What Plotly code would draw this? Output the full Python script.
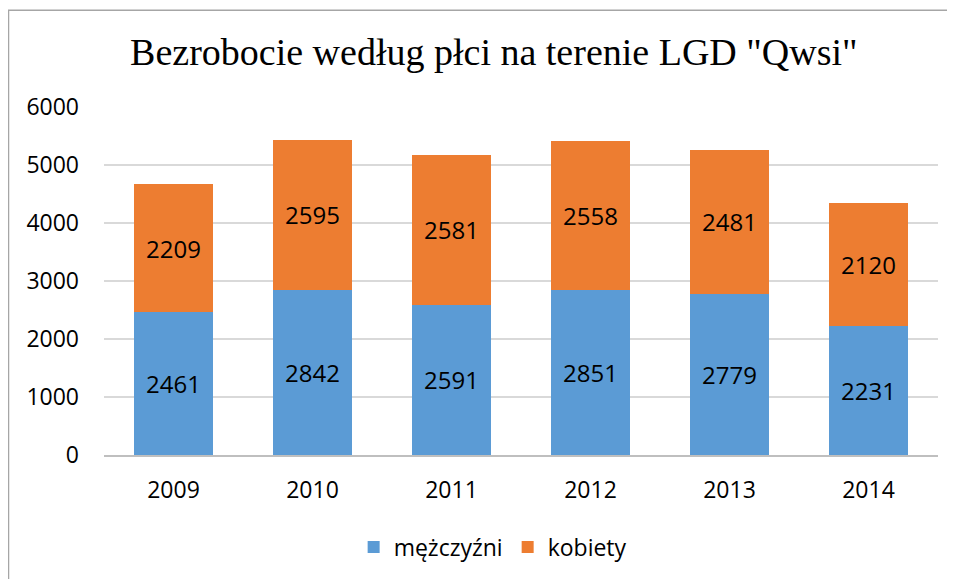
import plotly.graph_objects as go

# dane
lata = ['2009', '2010', '2011', '2012', '2013', '2014']
mezczyzni = [2461, 2842, 2591, 2851, 2779, 2231]
kobiety = [2209, 2595, 2581, 2558, 2481, 2120]

kolor_m = '#5B9BD5'
kolor_k = '#ED7D31'
czcionka = 'Open Sans'

fig = go.Figure()

fig.add_trace(go.Bar(
    x=lata, y=mezczyzni, name='mężczyźni',
    marker=dict(color=kolor_m, line=dict(width=0)),
    texttemplate='%{y}', textposition='inside', insidetextanchor='middle',
    textangle=0, textfont=dict(family=czcionka, size=24, color='black'),
))
fig.add_trace(go.Bar(
    x=lata, y=kobiety, name='kobiety',
    marker=dict(color=kolor_k, line=dict(width=0)),
    texttemplate='%{y}', textposition='inside', insidetextanchor='middle',
    textangle=0, textfont=dict(family=czcionka, size=24, color='black'),
))

# ramka wykresu
fig.add_shape(type='rect', xref='paper', yref='paper',
              x0=-0.1145, x1=1.2, y0=-0.5, y1=1.278,
              line=dict(color='#a6a6a6', width=1.5), layer='below')

fig.update_layout(
    width=947, height=571,
    margin=dict(l=96, r=17, t=99, b=123),
    barmode='stack', bargap=0.43,
    plot_bgcolor='white', paper_bgcolor='white',
    font=dict(family=czcionka, size=23, color='black'),
    title=dict(text='Bezrobocie według płci na terenie LGD "Qwsi"',
               font=dict(family='Liberation Serif', size=38, color='black'),
               x=0.513, xanchor='center', y=1 - 44 / 571, yanchor='middle'),
    showlegend=True,
    legend=dict(orientation='h', x=0.466, xanchor='center', y=-0.261, yanchor='middle',
                font=dict(family=czcionka, size=23), traceorder='normal',
                itemwidth=30),
    xaxis=dict(showline=True, linecolor='#bfbfbf', linewidth=1.5, ticks='',
               tickfont=dict(size=23), ticklabelstandoff=14),
    yaxis=dict(range=[0, 6000], dtick=1000, showgrid=True, gridcolor='#d9d9d9',
               gridwidth=1.5, zeroline=False, showline=False, ticks='',
               tickfont=dict(size=23), ticklabelstandoff=24),
)

fig.write_html('out.html')
